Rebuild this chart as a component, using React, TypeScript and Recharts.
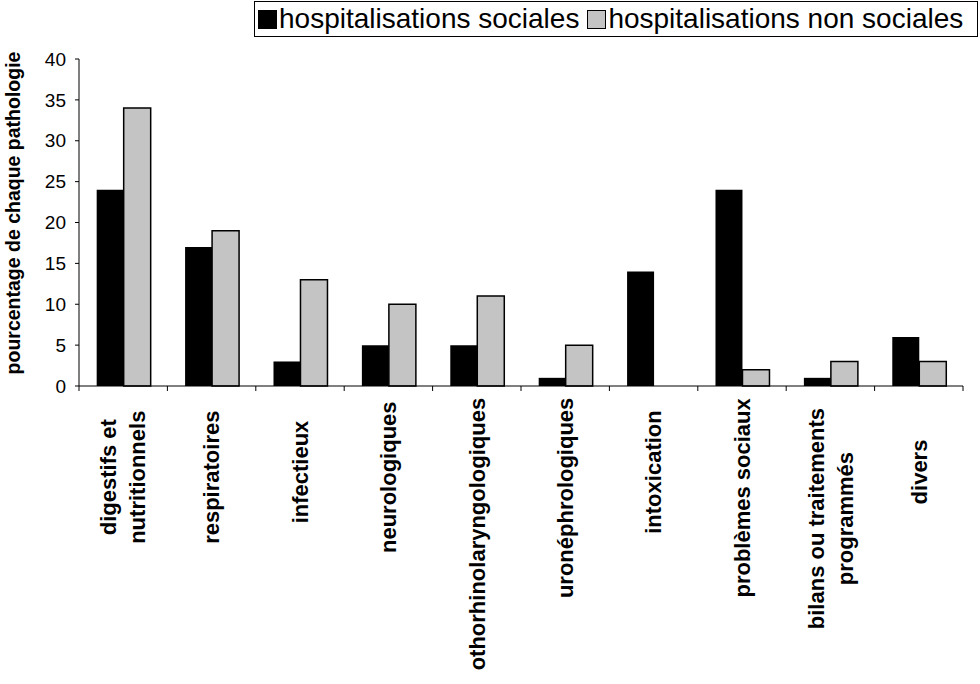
import { Bar, BarChart, Legend, XAxis, YAxis } from "recharts";

const categories = [
  "digestifs et\nnutritionnels",
  "respiratoires",
  "infectieux",
  "neurologiques",
  "othorhinolaryngologiques",
  "uronéphrologiques",
  "intoxication",
  "problèmes sociaux",
  "bilans ou traitements\nprogrammés",
  "divers",
];
const sociales = [24, 17, 3, 5, 5, 1, 14, 24, 1, 6];
const nonSociales = [34, 19, 13, 10, 11, 5, 0, 2, 3, 3];
const yTicks = [0, 5, 10, 15, 20, 25, 30, 35, 40];

const seriesNames = ["hospitalisations sociales", "hospitalisations non sociales"];
const seriesFills = ["#000000", "#c4c4c4"];

const font = "'Liberation Sans', Arial, sans-serif";

const data = categories.map((category, i) => ({
  category,
  sociales: sociales[i],
  nonSociales: nonSociales[i],
}));

// category labels: rotated, wrapped lines centred on each other
const CategoryTick = ({ x, y, payload }: any) => {
  const lines = String(payload.value).split("\n");
  const half = payload.offset ?? 44.2;
  const longest = Math.max(...lines.map((l) => l.length)) * 0.47 * 22;
  const cy = y + 24 + Math.max(longest, 124) / 2;
  return (
    <g>
      <line x1={x - half} y1={y} x2={x - half} y2={y + 5} stroke="#000" />
      {payload.index === categories.length - 1 && (
        <line x1={x + half} y1={y} x2={x + half} y2={y + 5} stroke="#000" />
      )}
      {lines.map((line, i) => (
        <text
          key={i}
          transform={`translate(${x + (i - (lines.length - 1) / 2) * 29}, ${cy}) rotate(-90)`}
          textAnchor="middle"
          dy="0.35em"
          fontFamily={font}
          fontWeight="bold"
          fontSize={22}
          fill="#000"
        >
          {line}
        </text>
      ))}
    </g>
  );
};

const YTitle = () => (
  <text
    transform="translate(13, 213) rotate(-90)"
    textAnchor="middle"
    dy="0.35em"
    fontFamily={font}
    fontWeight="bold"
    fontSize={19.5}
    fill="#000"
  >
    pourcentage de chaque pathologie
  </text>
);

const LegendBox = () => (
  <div
    style={{
      border: "1px solid #000",
      height: 36,
      boxSizing: "border-box",
      display: "flex",
      alignItems: "center",
      padding: "0 3px",
      fontFamily: font,
      fontSize: 28,
      color: "#000",
      whiteSpace: "nowrap",
      background: "#fff",
    }}
  >
    {seriesNames.map((name, i) => (
      <span key={name} style={{ display: "flex", alignItems: "center", marginRight: 8 }}>
        <span
          style={{
            display: "inline-block",
            width: 17,
            height: 17,
            background: seriesFills[i],
            border: "1px solid #000",
            marginRight: 2,
          }}
        />
        {name}
      </span>
    ))}
  </div>
);

export default function App() {
  return (
    <div style={{ position: "absolute", left: 0, top: 0, background: "#fff" }}>
      <BarChart
        width={980}
        height={684}
        data={data}
        margin={{ top: 59, right: 17, bottom: 0, left: 0 }}
        barCategoryGap="20%"
        barGap={0}
      >
        <XAxis
          dataKey="category"
          height={298}
          interval={0}
          tickLine={false}
          tickSize={0}
          tickMargin={0}
          axisLine={{ stroke: "#000" }}
          tick={<CategoryTick />}
        />
        <YAxis
          width={79}
          domain={[0, 40]}
          ticks={yTicks}
          interval={0}
          tickSize={4}
          tickMargin={9}
          axisLine={{ stroke: "#000" }}
          tickLine={{ stroke: "#000" }}
          tick={{ fill: "#000", fontSize: 19, fontFamily: font }}
          label={{ content: () => <YTitle /> }}
        />
        <Legend
          layout="vertical"
          align="center"
          verticalAlign="middle"
          content={() => <LegendBox />}
          wrapperStyle={{ left: 254, top: 1, width: 724, height: 36 }}
        />
        <Bar
          dataKey="sociales"
          name={seriesNames[0]}
          fill={seriesFills[0]}
          isAnimationActive={false}
        />
        <Bar
          dataKey="nonSociales"
          name={seriesNames[1]}
          fill={seriesFills[1]}
          stroke="#000"
          strokeWidth={1.5}
          isAnimationActive={false}
        />
      </BarChart>
    </div>
  );
}
